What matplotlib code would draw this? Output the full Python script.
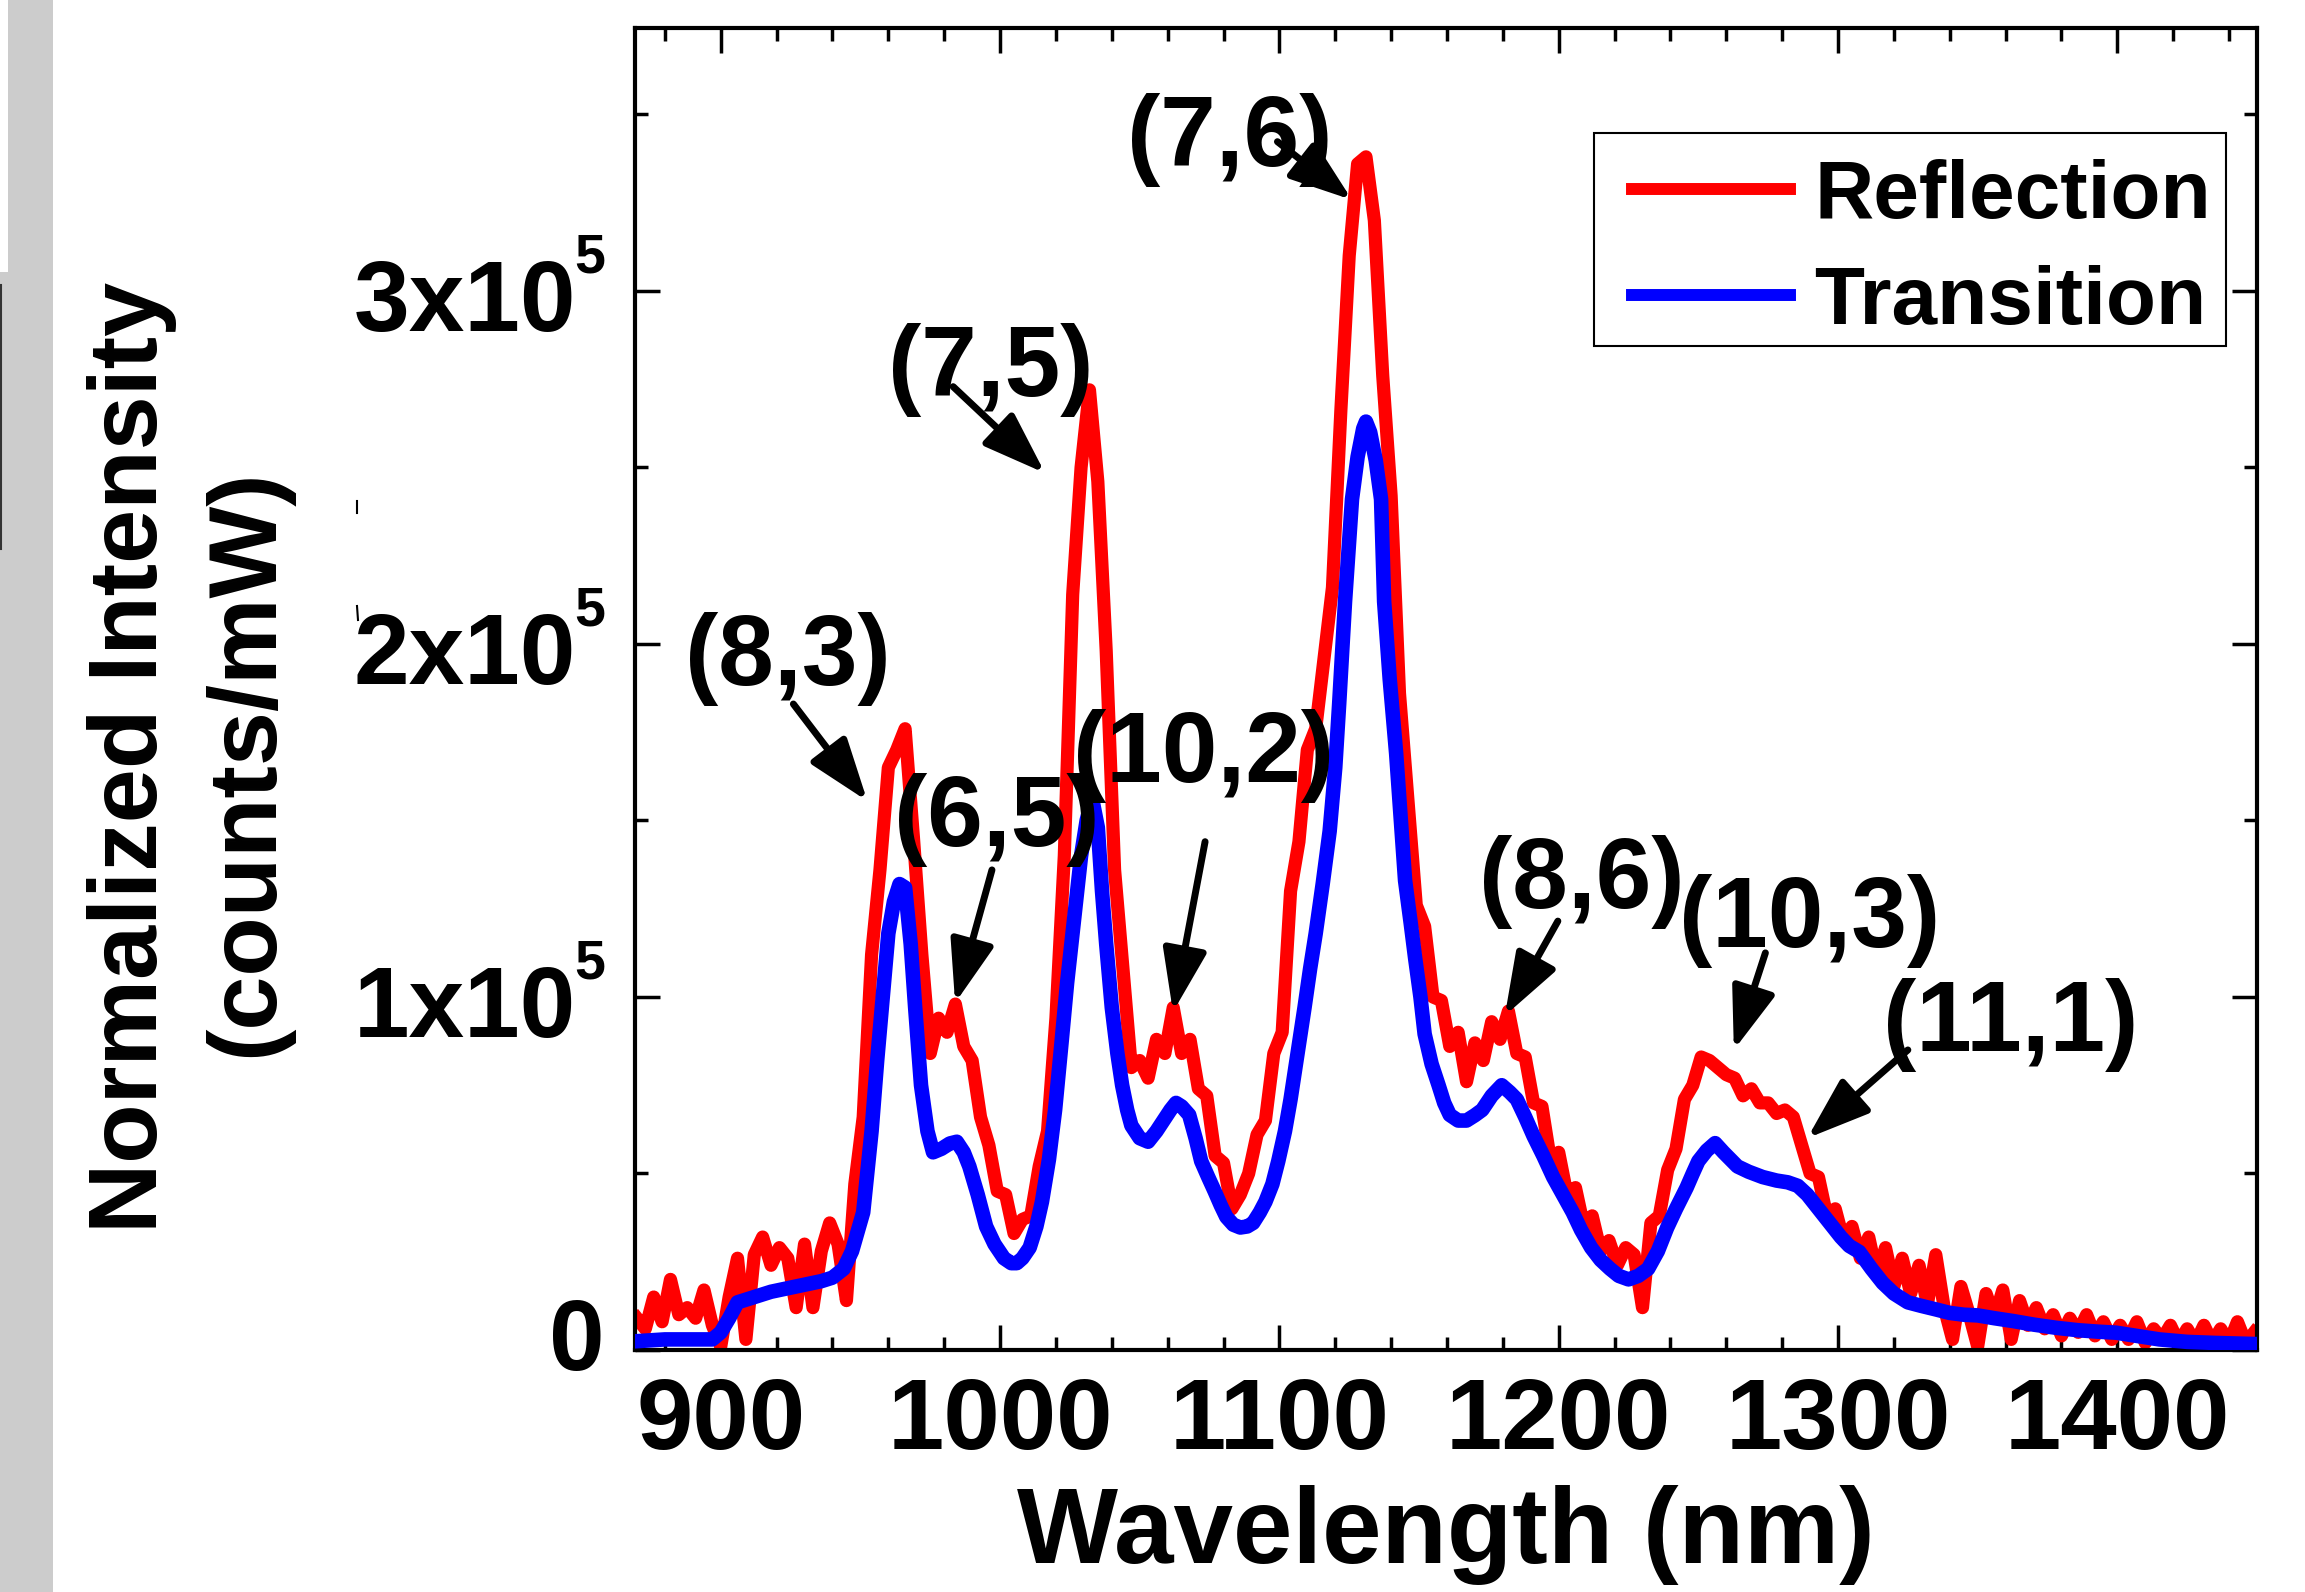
import numpy as np
import matplotlib
matplotlib.use("Agg")
import matplotlib.pyplot as plt
from matplotlib.patches import Rectangle
from matplotlib.lines import Line2D
from matplotlib.ticker import MultipleLocator, FixedLocator, NullFormatter
import matplotlib.transforms as mtransforms

plt.rcParams['font.family'] = ['Liberation Sans', 'DejaVu Sans']
plt.rcParams['font.weight'] = 'bold'

# ---------------- data (counts/mW, in thousands) ----------------
# Reflection spectrum, sampled every 3 nm from 870 nm
reflection_k = [
    9, 6, 15, 8, 20, 10, 12, 9, 17, 7,
    1, 15, 26, 3, 27, 32, 24, 29, 26, 12,
    30, 12, 28, 36, 30, 14, 47, 66, 112, 136,
    165, 170, 176, 145, 112, 84, 94, 90, 98, 86,
    82, 66, 58, 45, 44, 33, 37, 38, 52, 62,
    94, 140, 214, 250, 272, 246, 198, 136, 108, 80,
    82, 77, 88, 84, 97, 84, 88, 74, 72, 55,
    53, 40, 44, 50, 61, 65, 84, 90, 130, 144,
    170, 176, 196, 216, 266, 310, 336, 338, 320, 276,
    242, 186, 156, 126, 120, 100, 99, 86, 90, 76,
    87, 82, 93, 88, 96, 84, 83, 70, 69, 54,
    56, 44, 46, 35, 38, 28, 31, 24, 29, 27,
    12, 36, 38, 51, 57, 71, 75, 83, 82, 80,
    78, 77, 72, 74, 70, 70, 67, 68, 66, 58,
    50, 49, 38, 40, 31, 35, 26, 32, 21, 29,
    18, 26, 16, 24, 13, 27, 12, 3, 18, 10,
    1, 16, 9, 17, 3, 14, 7, 12, 6, 10,
    4, 9, 5, 10, 4, 8, 3, 7, 3, 8,
    2, 6, 3, 7, 2, 6, 2, 7, 2, 6,
    2, 8, 2, 5,
]
reflection_wl = np.arange(len(reflection_k)) * 3 + 870

transition_wl = [
    870, 880, 890, 897, 900, 903, 906, 912, 918, 924, 930, 936, 940, 944, 947,
    951, 954, 956, 958, 960, 962, 964, 966, 968, 969.6, 971.7, 974, 976, 979,
    982, 984.5, 987, 989, 992, 995, 998, 1001.4, 1004, 1006, 1008, 1010.6,
    1013, 1015, 1017.5, 1019.7, 1022, 1024, 1026.5, 1029, 1031, 1033, 1035,
    1036.5, 1038, 1040, 1042, 1043.7, 1045.5, 1047, 1050, 1053, 1056, 1058.5,
    1061, 1063, 1065, 1067.7, 1070, 1072, 1074.5, 1076.8, 1079, 1081, 1083.5,
    1086, 1088.5, 1090.6, 1093, 1095, 1097.5, 1099.6, 1102, 1104, 1106.5,
    1109, 1111, 1113, 1115.5, 1118, 1120, 1121.4, 1123.5, 1126, 1128, 1130,
    1131, 1132.5, 1134.5, 1136.4, 1137.5, 1139.5, 1141.8, 1143.5, 1145, 1147,
    1148.6, 1150.5, 1152, 1154.5, 1157, 1159, 1161, 1164, 1167, 1170, 1172.6,
    1176, 1179.6, 1182.5, 1185, 1188, 1191, 1194.5, 1198, 1201.5, 1205, 1208,
    1211.6, 1215, 1218.4, 1221.5, 1225, 1228.5, 1232, 1235.5, 1238.8, 1242,
    1245.8, 1248, 1250, 1253, 1256, 1259, 1261.5, 1264, 1268, 1273, 1278,
    1282, 1285.6, 1289, 1293, 1297, 1301, 1304, 1307.6, 1312, 1316, 1320,
    1325, 1329.8, 1335, 1340, 1345, 1350, 1356, 1362.7, 1370, 1378, 1386,
    1393, 1399.6, 1407, 1415, 1425, 1435, 1449,
]
transition_k = [
    2.5, 3, 3, 3, 5, 9, 13.5, 15, 16.5, 17.5, 18.5, 19.5, 20.5, 23, 28,
    39, 62, 82, 100, 118, 127, 132, 131, 115, 97, 75, 62, 56, 57,
    58.5, 59, 56, 52, 44, 35, 30, 26, 24.6, 24.6, 26, 29,
    35, 42, 54, 68, 87, 104, 122, 140, 150, 156, 148,
    130, 115, 97, 84, 75, 68, 63.6, 60, 59, 62, 65,
    68, 70, 69, 66.6, 60, 53.5, 49, 45, 41, 37.7, 35.5,
    34.7, 35, 36, 39, 42, 47, 53.5, 62, 71, 84,
    97, 108, 118, 132, 147, 165, 183, 212, 241, 253, 261,
    263, 260, 252, 241, 212, 190, 169, 150, 133, 121,
    111, 100, 89.5, 81, 75, 70, 66.6, 65, 65, 66.5, 68,
    72, 75, 73, 71, 66, 60.6, 55, 49, 44, 39, 34,
    29, 25.5, 23, 21, 20, 21, 23, 28, 34.6, 40,
    46, 50, 53.5, 56.5, 58.6, 56, 54, 52, 50.5, 49, 48,
    47.5, 46.5, 44, 40, 36, 32, 29.5, 27.8, 23, 19, 16,
    13.5, 12.5, 11.5, 10.5, 10, 9.8, 9, 8.2, 7.2, 6.3, 5.6,
    5.2, 4.9, 4, 3, 2.3, 2, 1.7,
]

series_names = ["Reflection", "Transition"]
x_ticks = [900, 1000, 1100, 1200, 1300, 1400]
y_ticks = [0, 1e5, 2e5, 3e5]
y_tick_mantissa = ["0", "1x10", "2x10", "3x10"]
y_tick_exponent = ["", "5", "5", "5"]

# chirality labels: text centre and arrow (start -> tip), data coords (nm, counts/mW)
chirality = ["(8,3)", "(7,5)", "(7,6)", "(6,5)", "(10,2)", "(8,6)", "(10,3)", "(11,1)"]
label_xy = [(924, 195.7e3), (996.6, 277.6e3), (1082.3, 342.8e3), (998.7, 150e3),
            (1073, 168.4e3), (1208.4, 132.6e3), (1290, 121.5e3), (1361.8, 92.2e3)]
arrow_from = [(926, 183e3), (983.2, 272.9e3), (1099.3, 342.3e3), (997.1, 136e3),
              (1073.4, 144e3), (1199.7, 121.5e3), (1274, 112.5e3), (1325, 85e3)]
arrow_to = [(952.5, 155.5e3), (1016.1, 248.4e3), (1126, 325.8e3), (983.9, 98.3e3),
            (1061.9, 95.8e3), (1180.7, 94.7e3), (1262.7, 85e3), (1289, 60e3)]

# ---------------- figure ----------------
W, H = 2305, 1592
fig = plt.figure(figsize=(W / 100, H / 100), dpi=100)
fig.patch.set_facecolor('white')

# grey strip at the left edge of the original scan
fig.patches.append(Rectangle((0, 0), 53 / W, 1, transform=fig.transFigure,
                             facecolor='#cccccc', edgecolor='none', zorder=0))
fig.patches.append(Rectangle((0, 1 - 272 / H), 8 / W, 272 / H, transform=fig.transFigure,
                             facecolor='white', edgecolor='none', zorder=1))
fig.add_artist(Line2D([1 / W, 1 / W], [1 - 285 / H, 1 - 549 / H], color='#333333', lw=1.5))
fig.add_artist(Line2D([357 / W, 357 / W], [1 - 501 / H, 1 - 513 / H], color='black', lw=1.5))
fig.add_artist(Line2D([357 / W, 358 / W], [1 - 606 / H, 1 - 620 / H], color='black', lw=1.5))

ax = fig.add_axes([635 / W, 1 - 1350 / H, (2257 - 635) / W, (1350 - 28) / H])

ax.plot(reflection_wl, np.array(reflection_k) * 1e3, color='#ff0000', lw=9.5,
        label=series_names[0], zorder=2)
ax.plot(transition_wl, np.array(transition_k) * 1e3, color='#0000ff', lw=10.5,
        label=series_names[1], zorder=3)

ax.set_xlim(869.3, 1450)
ax.set_ylim(0, 3.745e5)

ax.xaxis.set_major_locator(FixedLocator(x_ticks))
ax.xaxis.set_minor_locator(MultipleLocator(20))
ax.yaxis.set_major_locator(FixedLocator(y_ticks))
ax.yaxis.set_minor_locator(MultipleLocator(0.5e5))
ax.set_xticklabels([str(v) for v in x_ticks])
ax.yaxis.set_major_formatter(NullFormatter())

ax.tick_params(which='both', direction='in', top=True, right=True, width=2.5, color='black')
ax.tick_params(which='major', length=18)
ax.tick_params(which='minor', length=9.3)
ax.tick_params(axis='x', labelsize=73, pad=19)
for lab in ax.get_xticklabels():
    lab.set_fontweight('bold')
for sp in ax.spines.values():
    sp.set_linewidth(3)

# y tick labels: mantissa plus small raised exponent
ytrans = mtransforms.blended_transform_factory(fig.transFigure, ax.transData)
for v, m, e in zip(y_ticks, y_tick_mantissa, y_tick_exponent):
    if e:
        ax.text(576 / W, v, m, fontsize=72, fontweight='bold', ha='right', va='baseline',
                transform=mtransforms.offset_copy(ytrans, fig=fig, x=0, y=-40, units='dots'),
                clip_on=False)
        ax.text(605 / W, v, e, fontsize=40, fontweight='bold', ha='right', va='baseline',
                transform=mtransforms.offset_copy(ytrans, fig=fig, x=0, y=18, units='dots'),
                clip_on=False)
    else:
        ax.text(605 / W, v, m, fontsize=72, fontweight='bold', ha='right', va='baseline',
                transform=mtransforms.offset_copy(ytrans, fig=fig, x=0, y=-20, units='dots'),
                clip_on=False)

for txt, (tx, ty), s, e in zip(chirality, label_xy, arrow_from, arrow_to):
    ax.text(tx, ty, txt, fontsize=72, fontweight='bold', ha='center', va='center', zorder=5)
    ax.annotate('', xy=e, xytext=s,
                arrowprops=dict(arrowstyle='-|>,head_length=0.85,head_width=0.3',
                                mutation_scale=45, lw=5, color='black',
                                shrinkA=0, shrinkB=0),
                zorder=6)

leg = ax.legend(loc='upper right', bbox_to_anchor=(2226 / W, 1 - 135 / H),
                bbox_transform=fig.transFigure, fontsize=59, frameon=False,
                borderaxespad=0, handlelength=1.93, handletextpad=0.3,
                labelspacing=0.37, borderpad=0.18)
shift = mtransforms.ScaledTranslation(0, -9 / 100, fig.dpi_scale_trans)
for t in leg.get_texts():
    t.set_fontweight('bold')
    t.set_transform(t.get_transform() + shift)
for h in leg.get_lines():
    h.set_linewidth(8.6)
    h.set_transform(h.get_transform() + shift)
# legend frame as in the original (wider left padding)
fig.patches.append(Rectangle((1594 / W, 1 - 346 / H), (2226 - 1594) / W, (346 - 133) / H,
                             transform=fig.transFigure, fill=False, edgecolor='black',
                             lw=1.5, zorder=10))

fig.text(1446 / W, 1 - 1563 / H, 'Wavelength (nm)', ha='center', va='baseline',
         fontsize=77, fontweight='bold')
fig.text(157 / W, 1 - 757 / H, 'Normalized Intensity', rotation=90, rotation_mode='anchor',
         ha='center', va='baseline', fontsize=70, fontweight='bold')
fig.text(272 / W, 1 - 763 / H, '(counts/mW)', rotation=90, rotation_mode='anchor',
         ha='center', va='baseline', fontsize=70, fontweight='bold')

fig.savefig('out.png', dpi=100)
